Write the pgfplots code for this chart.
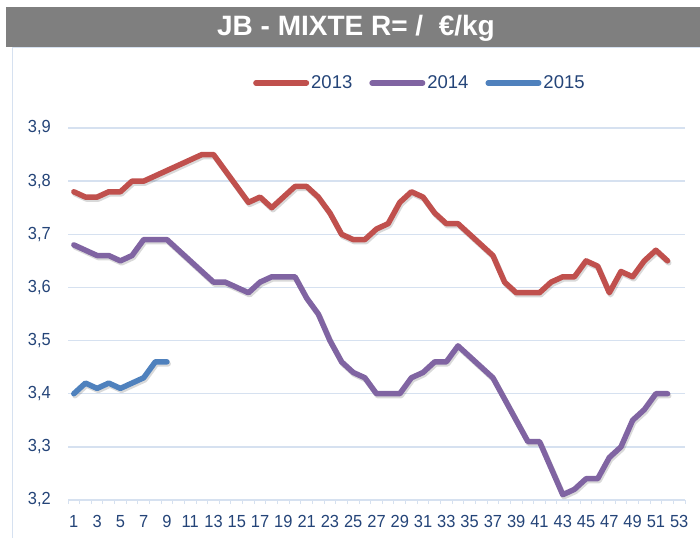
\documentclass[border=0pt]{standalone}
\usepackage{fontspec}
\setmainfont{Liberation Sans}
\newfontfamily\narrowfont[FakeStretch=0.94]{Liberation Sans}
\usepackage{pgfplots}
\usepackage{pgfplotstable}
\pgfplotsset{compat=1.18}
\definecolor{c2013}{RGB}{192,80,77}
\definecolor{c2014}{RGB}{128,100,162}
\definecolor{c2015}{RGB}{79,129,189}
\definecolor{titlegray}{RGB}{127,127,127}
\definecolor{gridcol}{RGB}{214,225,240}
\definecolor{txtcol}{RGB}{36,68,120}

\pgfplotstableread{
w v
1 3.78
2 3.77
3 3.77
4 3.78
5 3.78
6 3.80
7 3.80
8 3.81
9 3.82
10 3.83
11 3.84
12 3.85
13 3.85
14 3.82
15 3.79
16 3.76
17 3.77
18 3.75
19 3.77
20 3.79
21 3.79
22 3.77
23 3.74
24 3.70
25 3.69
26 3.69
27 3.71
28 3.72
29 3.76
30 3.78
31 3.77
32 3.74
33 3.72
34 3.72
35 3.70
36 3.68
37 3.66
38 3.61
39 3.59
40 3.59
41 3.59
42 3.61
43 3.62
44 3.62
45 3.65
46 3.64
47 3.59
48 3.63
49 3.62
50 3.65
51 3.67
52 3.65
}\dataA

\pgfplotstableread{
w v
1 3.68
2 3.67
3 3.66
4 3.66
5 3.65
6 3.66
7 3.69
8 3.69
9 3.69
10 3.67
11 3.65
12 3.63
13 3.61
14 3.61
15 3.60
16 3.59
17 3.61
18 3.62
19 3.62
20 3.62
21 3.58
22 3.55
23 3.50
24 3.46
25 3.44
26 3.43
27 3.40
28 3.40
29 3.40
30 3.43
31 3.44
32 3.46
33 3.46
34 3.49
35 3.47
36 3.45
37 3.43
38 3.39
39 3.35
40 3.31
41 3.31
42 3.26
43 3.21
44 3.22
45 3.24
46 3.24
47 3.28
48 3.30
49 3.35
50 3.37
51 3.40
52 3.40
}\dataB

\pgfplotstableread{
w v
1 3.40
2 3.42
3 3.41
4 3.42
5 3.41
6 3.42
7 3.43
8 3.46
9 3.46
}\dataC

\begin{document}
\begin{tikzpicture}
\path[use as bounding box] (0pt,0pt) rectangle (700pt,538pt);
\fill[titlegray] (6pt,491pt) rectangle (700pt,531pt);
\node[text=white, font=\fontsize{28}{30}\selectfont\bfseries, anchor=base] at (356pt,502pt) {JB - MIXTE R= /\ \ €/kg};
\draw[gridcol, line width=1pt] (12pt,0pt) -- (12pt,490.5pt) -- (700pt,490.5pt);
\begin{axis}[
  at={(68pt,38pt)}, anchor=south west,
  width=617pt, height=372pt, scale only axis,
  xmin=0.5, xmax=53.5, ymin=3.2, ymax=3.9,
  axis line style={draw=none},
  xtick={1,3,...,53},
  minor xtick={0.5,1.5,...,53.5},
  ytick={3.2,3.3,3.4,3.5,3.6,3.7,3.8,3.9},
  yticklabels={{3,2},{3,3},{3,4},{3,5},{3,6},{3,7},{3,8},{3,9}},
  xtick pos=left, ytick pos=left,
  major tick length=0pt,
  minor tick length=4pt,
  tick align=outside,
  minor tick style={gridcol, line width=1pt},
  ymajorgrids,
  grid style={gridcol, line width=1.3pt},
  /pgf/number format/assume math mode=true,
  tick label style={font=\narrowfont\fontsize{17.5}{19}\selectfont, text=txtcol, inner sep=0pt},
  xticklabel style={anchor=north, yshift=-15pt},
  yticklabel style={anchor=east, xshift=-17pt},
  legend columns=3,
  legend style={at={(0.2998,1.121)}, anchor=west, draw=none, fill=none,
    inner sep=0pt, font=\fontsize{18.5}{20}\selectfont, text=txtcol,
    nodes={inner xsep=2pt, inner ysep=0pt},
    /tikz/every even column/.append style={column sep=15pt}},
  legend image code/.code={\draw[#1] (2.75pt,0pt) -- (53.25pt,0pt);},
  clip=false,
]
\addplot[black, opacity=0.15, line width=5.5pt, line join=round, line cap=round, xshift=1.2pt, yshift=-2pt, forget plot] table[x=w,y=v] {\dataA};
\addplot[black, opacity=0.15, line width=5.5pt, line join=round, line cap=round, xshift=1.2pt, yshift=-2pt, forget plot] table[x=w,y=v] {\dataB};
\addplot[black, opacity=0.15, line width=5.5pt, line join=round, line cap=round, xshift=1.2pt, yshift=-2pt, forget plot] table[x=w,y=v] {\dataC};
\addplot[c2013, line width=5.5pt, line join=round, line cap=round, no marks] table[x=w,y=v] {\dataA};
\addlegendentry{2013}
\addplot[c2014, line width=5.5pt, line join=round, line cap=round, no marks] table[x=w,y=v] {\dataB};
\addlegendentry{2014}
\addplot[c2015, line width=5.5pt, line join=round, line cap=round, no marks] table[x=w,y=v] {\dataC};
\addlegendentry{2015}
\end{axis}
\end{tikzpicture}
\end{document}
